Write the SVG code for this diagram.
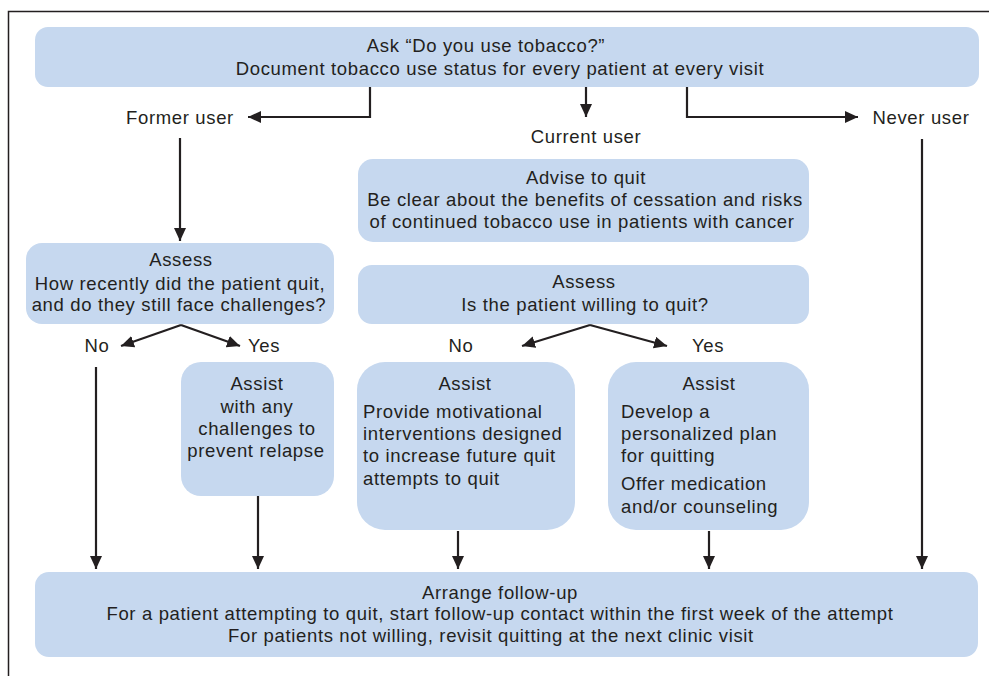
<svg xmlns="http://www.w3.org/2000/svg" width="989" height="676" viewBox="0 0 989 676">
<defs>
<style>
.box{fill:#c6d8ef;}
.t{font-family:"Liberation Sans",Arial,sans-serif;font-size:18.5px;letter-spacing:0.65px;fill:#231f20;}
.c{text-anchor:middle;}
.ln{fill:none;stroke:#231f20;stroke-width:2.2;}
.frame{fill:none;stroke:#231f20;stroke-width:1.5;}
</style>
<marker id="ah" markerUnits="userSpaceOnUse" markerWidth="14" markerHeight="12" refX="13" refY="6" orient="auto">
<path d="M0,0 L13,6 L0,12 Z" fill="#231f20"/>
</marker>
</defs>
<rect width="989" height="676" fill="#ffffff"/>
<path class="frame" d="M8.5,676 V11.5 H989"/>

<g id="ask">
<rect class="box" x="35" y="27" width="944" height="60" rx="13"/>
<text class="t c" x="486" y="52">Ask “Do you use tobacco?”</text>
<text class="t c" x="500" y="75">Document tobacco use status for every patient at every visit</text>
</g>

<g id="former">
<text class="t c" x="180" y="124">Former user</text>
</g>
<g id="current">
<text class="t c" x="586" y="143">Current user</text>
</g>
<g id="never">
<text class="t c" x="921" y="124">Never user</text>
</g>

<g id="advise">
<rect class="box" x="358" y="159" width="451" height="83" rx="15"/>
<text class="t c" x="586" y="184">Advise to quit</text>
<text class="t c" x="585" y="206">Be clear about the benefits of cessation and risks</text>
<text class="t c" x="582" y="228">of continued tobacco use in patients with cancer</text>
</g>

<g id="assess-former">
<rect class="box" x="26" y="243" width="308" height="81" rx="16"/>
<text class="t c" x="181" y="266">Assess</text>
<text class="t c" x="180" y="290">How recently did the patient quit,</text>
<text class="t c" x="179" y="311">and do they still face challenges?</text>
</g>

<g id="assess-current">
<rect class="box" x="358" y="265" width="451" height="59" rx="14"/>
<text class="t c" x="584" y="288">Assess</text>
<text class="t c" x="585" y="311">Is the patient willing to quit?</text>
</g>

<g id="no-left"><text class="t c" x="97" y="352">No</text></g>
<g id="yes-left"><text class="t c" x="264" y="352">Yes</text></g>
<g id="no-right"><text class="t c" x="461" y="352">No</text></g>
<g id="yes-right"><text class="t c" x="708" y="352">Yes</text></g>

<g id="assist-relapse">
<rect class="box" x="181" y="362" width="153" height="134" rx="20"/>
<text class="t c" x="257" y="390">Assist</text>
<text class="t c" x="257" y="413">with any</text>
<text class="t c" x="257" y="435">challenges to</text>
<text class="t c" x="256" y="457">prevent relapse</text>
</g>

<g id="assist-motivate">
<rect class="box" x="357" y="362" width="218" height="168" rx="28"/>
<text class="t c" x="465" y="390">Assist</text>
<text class="t" x="363" y="418">Provide motivational</text>
<text class="t" x="363" y="440">interventions designed</text>
<text class="t" x="363" y="462">to increase future quit</text>
<text class="t" x="363" y="485">attempts to quit</text>
</g>

<g id="assist-plan">
<rect class="box" x="608" y="362" width="201" height="168" rx="28"/>
<text class="t c" x="709" y="390">Assist</text>
<text class="t" x="621" y="418">Develop a</text>
<text class="t" x="621" y="440">personalized plan</text>
<text class="t" x="621" y="462">for quitting</text>
<text class="t" x="621" y="490">Offer medication</text>
<text class="t" x="621" y="513">and/or counseling</text>
</g>

<g id="followup">
<rect class="box" x="35" y="572" width="943" height="85" rx="14"/>
<text class="t c" x="500" y="599">Arrange follow-up</text>
<text class="t c" x="500" y="620">For a patient attempting to quit, start follow-up contact within the first week of the attempt</text>
<text class="t c" x="491" y="642">For patients not willing, revisit quitting at the next clinic visit</text>
</g>

<g id="connectors">
<path class="ln" d="M370,87 V117 H248" marker-end="url(#ah)"/>
<path class="ln" d="M586,87 V117" marker-end="url(#ah)"/>
<path class="ln" d="M687,87 V117 H858" marker-end="url(#ah)"/>
<path class="ln" d="M180,138 V241" marker-end="url(#ah)"/>
<path class="ln" d="M181,325 L121,346" marker-end="url(#ah)"/>
<path class="ln" d="M181,325 L240,346" marker-end="url(#ah)"/>
<path class="ln" d="M590,325 L522,346" marker-end="url(#ah)"/>
<path class="ln" d="M590,325 L667,346" marker-end="url(#ah)"/>
<path class="ln" d="M96,367 V569" marker-end="url(#ah)"/>
<path class="ln" d="M258,496 V569" marker-end="url(#ah)"/>
<path class="ln" d="M458,531 V569" marker-end="url(#ah)"/>
<path class="ln" d="M709,531 V569" marker-end="url(#ah)"/>
<path class="ln" d="M922,139 V569" marker-end="url(#ah)"/>
</g>
</svg>
